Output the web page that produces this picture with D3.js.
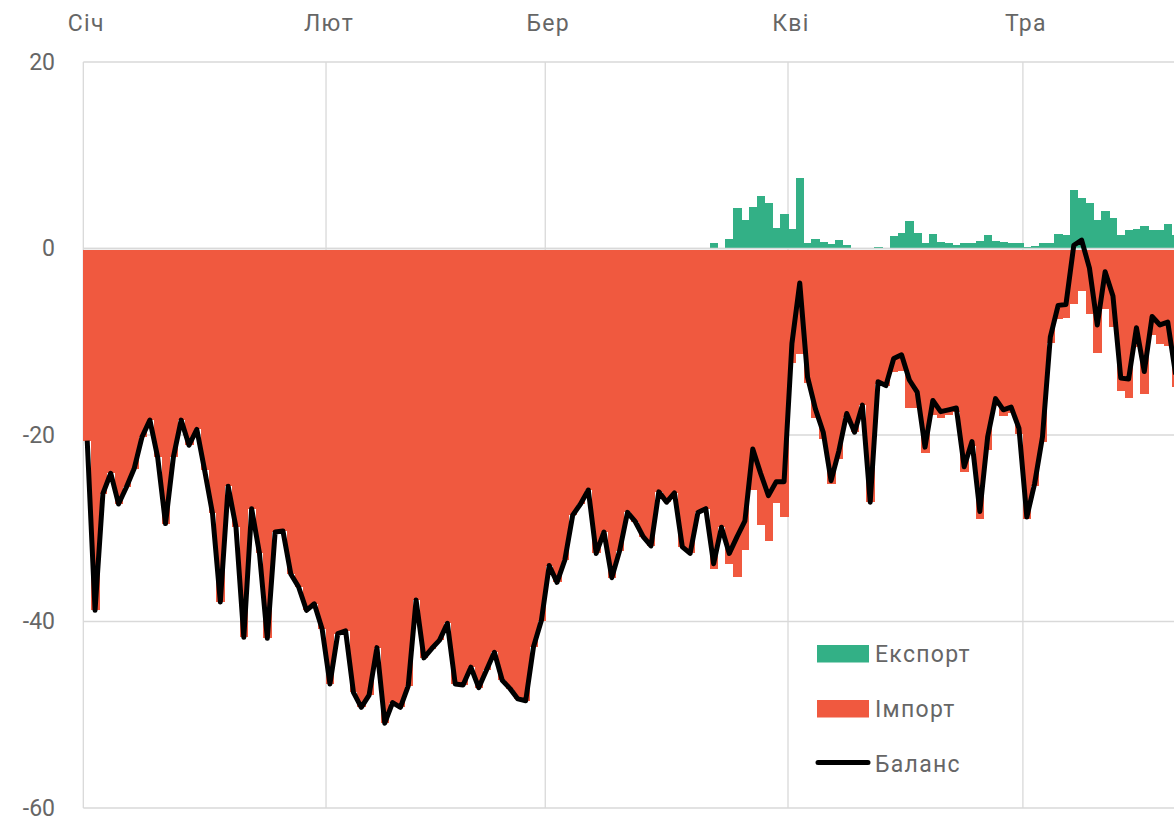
<!DOCTYPE html>
<html lang="uk">
<head>
<meta charset="UTF-8">
<title>Баланс</title>
<script src="https://cdn.jsdelivr.net/npm/d3@7/dist/d3.min.js"></script>
<style>
    body { margin: 0; background: #fff; font-family: Roboto, Arial, sans-serif; }
    svg text { fill: #666; font-family: Roboto, Arial, sans-serif; }
    .wide { letter-spacing: 1.3px; }
</style>
</head>
<body>
<div id="chart"></div>
<script>
// first day of the series, one value per day
const startDate = new Date(2023, 0, 1);
const monthLabels = ["Січ", "Лют", "Бер", "Кві", "Тра"];
const yTicks = [20, 0, -20, -40, -60];

const balance = [
    -20.6, -38.8, -26.3, -24.1, -27.4, -25.6, -23.6, -20.2, -18.4, -22.4,
    -29.5, -22.4, -18.4, -21.1, -19.4, -23.8, -28.4, -37.9, -25.5, -29.9,
    -41.7, -27.9, -32.7, -41.8, -30.4, -30.3, -34.9, -36.3, -38.8, -38.1,
    -40.8, -46.7, -41.3, -41.0, -47.6, -49.2, -47.9, -42.8, -50.9, -48.7,
    -49.2, -46.9, -37.7, -43.9, -42.9, -42.0, -40.2, -46.7, -46.8, -44.9,
    -47.1, -45.2, -43.3, -46.3, -47.2, -48.3, -48.5, -42.7, -39.9, -34.0,
    -35.8, -33.4, -28.6, -27.4, -25.9, -32.7, -30.4, -35.3, -32.4, -28.3,
    -29.3, -30.9, -31.9, -26.1, -27.2, -26.2, -32.0, -32.7, -28.3, -27.9,
    -33.8, -29.9, -32.7, -30.9, -29.2, -21.5, -24.1, -26.5, -25.0, -25.0,
    -10.2, -3.7, -13.8, -17.2, -19.7, -24.9, -21.7, -17.7, -19.7, -16.8,
    -27.2, -14.3, -14.7, -11.8, -11.4, -14.1, -15.4, -21.3, -16.3, -17.5,
    -17.3, -17.1, -23.4, -20.7, -28.2, -20.2, -16.1, -17.3, -17.0, -19.3,
    -28.8, -25.2, -20.2, -9.5, -6.1, -6.0, 0.35, 0.9, -2.1, -8.2,
    -2.5, -5.1, -13.9, -14.0, -8.5, -13.2, -7.3, -8.2, -7.9, -13.5
];

const exportVals = [
    0, 0, 0, 0, 0, 0, 0, 0, 0, 0,
    0, 0, 0, 0, 0, 0, 0, 0, 0, 0,
    0, 0, 0, 0, 0, 0, 0, 0, 0, 0,
    0, 0, 0, 0, 0, 0, 0, 0, 0, 0,
    0, 0, 0, 0, 0, 0, 0, 0, 0, 0,
    0, 0, 0, 0, 0, 0, 0, 0, 0, 0,
    0, 0, 0, 0, 0, 0, 0, 0, 0, 0,
    0, 0, 0, 0, 0, 0, 0, 0, 0, 0,
    0.6, 0, 1.07, 4.3, 3.1, 4.4, 5.6, 4.9, 2.25, 3.75,
    2.1, 7.6, 0.6, 1.0, 0.7, 0.45, 0.9, 0.36, 0, 0,
    0, 0.18, 0, 1.36, 1.7, 2.96, 1.7, 0.6, 1.6, 0.7,
    0.6, 0.36, 0.64, 0.54, 0.82, 1.43, 0.79, 0.68, 0.57, 0.62,
    0.18, 0.25, 0.54, 0.6, 1.54, 1.43, 6.25, 5.46, 4.9, 3.04,
    4.04, 3.3, 1.43, 1.96, 2.14, 2.43, 1.96, 1.96, 2.6, 1.43
];

const importVals = [
    -20.6, -38.8, -26.3, -24.1, -27.4, -25.6, -23.6, -20.2, -18.4, -22.4,
    -29.5, -22.4, -18.4, -21.1, -19.4, -23.8, -28.4, -37.9, -25.5, -29.9,
    -41.7, -27.9, -32.7, -41.8, -30.4, -30.3, -34.9, -36.3, -38.8, -38.1,
    -40.8, -46.7, -41.3, -41.0, -47.6, -49.2, -47.9, -42.8, -50.9, -48.7,
    -49.2, -46.9, -37.7, -43.9, -42.9, -42.0, -40.2, -46.7, -46.8, -44.9,
    -47.1, -45.2, -43.3, -46.3, -47.2, -48.3, -48.5, -42.7, -39.9, -34.0,
    -35.8, -33.4, -28.6, -27.4, -25.9, -32.7, -30.4, -35.3, -32.4, -28.3,
    -29.3, -30.9, -31.9, -26.1, -27.2, -26.2, -32.0, -32.7, -28.3, -27.9,
    -34.4, -29.9, -33.8, -35.2, -32.3, -25.9, -29.7, -31.4, -27.3, -28.8,
    -12.3, -11.3, -14.4, -18.2, -20.4, -25.3, -22.6, -18.1, -19.7, -16.8,
    -27.2, -14.5, -14.7, -13.2, -13.1, -17.1, -17.1, -21.9, -17.9, -18.2,
    -17.9, -17.5, -24.0, -21.2, -29.0, -21.6, -16.9, -18.0, -17.6, -19.9,
    -29.0, -25.5, -20.7, -10.1, -7.6, -7.4, -5.9, -4.6, -7.0, -11.2,
    -6.5, -8.4, -15.3, -16.0, -10.6, -15.6, -9.3, -10.2, -10.5, -14.9
];

const legendItems = [
    { name: "Експорт", type: "bar", color: "#33B086" },
    { name: "Імпорт", type: "bar", color: "#F0593F" },
    { name: "Баланс", type: "line", color: "#000" }
];

const W = 1174, H = 820;
const plotLeft = 83.3, plotTop = 62, plotBottom = 808;
const dayW = 7.83;

const data = balance.map((b, i) => ({
    date: d3.timeDay.offset(startDate, i),
    balance: b,
    exp: exportVals[i],
    imp: importVals[i]
}));
const endDate = d3.timeDay.offset(startDate, data.length + 1);

const x = d3.scaleTime()
    .domain([startDate, endDate])
    .range([plotLeft, plotLeft + (data.length + 1) * dayW]);
const y = d3.scaleLinear().domain([-60, 20]).range([plotBottom, plotTop]);

const svg = d3.select("#chart").append("svg")
    .attr("width", W).attr("height", H);

const monthTicks = d3.timeMonth.range(startDate, d3.timeMonth.offset(startDate, monthLabels.length));

// grid
svg.append("g").selectAll("line").data(yTicks).join("line")
    .attr("x1", plotLeft).attr("x2", W)
    .attr("y1", d => y(d)).attr("y2", d => y(d))
    .attr("stroke", "#d9d9d9").attr("stroke-width", 1.3);
svg.append("g").selectAll("line").data(monthTicks).join("line")
    .attr("x1", d => x(d)).attr("x2", d => x(d))
    .attr("y1", plotTop).attr("y2", plotBottom)
    .attr("stroke", "#d9d9d9").attr("stroke-width", 1.3);

// bars (crisp edges so neighbouring days join without seams)
const bw = d => x(d3.timeDay.offset(d.date, 1)) - x(d.date) + 0.6;
svg.append("g").attr("shape-rendering", "crispEdges")
    .selectAll("rect").data(data).join("rect")
    .attr("x", d => x(d.date)).attr("width", bw)
    .attr("y", y(0) + 1).attr("height", d => Math.max(0, y(d.imp) - y(0) - 1))
    .attr("fill", legendItems[1].color);
svg.append("g").attr("shape-rendering", "crispEdges")
    .selectAll("rect").data(data.filter(d => d.exp > 0)).join("rect")
    .attr("x", d => x(d.date)).attr("width", bw)
    .attr("y", d => y(d.exp)).attr("height", d => Math.max(0, y(0) - 1 - y(d.exp)))
    .attr("fill", legendItems[0].color);

// zero line on top
svg.append("line")
    .attr("x1", plotLeft).attr("x2", W)
    .attr("y1", y(0)).attr("y2", y(0))
    .attr("stroke", "#d9d9d9").attr("stroke-width", 1.5);

// balance line
const line = d3.line()
    .x(d => x(d.date) + dayW / 2)
    .y(d => y(d.balance));
svg.append("path").datum(data)
    .attr("d", line)
    .attr("fill", "none").attr("stroke", "#000")
    .attr("stroke-width", 5).attr("stroke-linejoin", "round");

// axis labels
svg.append("g").selectAll("text").data(yTicks).join("text")
    .attr("x", 55).attr("y", d => y(d)).attr("dy", "0.34em")
    .attr("text-anchor", "end").style("font-size", "23px")
    .text(d => d);
svg.append("g").selectAll("text").data(monthTicks).join("text")
    .attr("class", "wide")
    .attr("x", d => x(d) + 3).attr("y", 31)
    .attr("text-anchor", "middle").style("font-size", "23px")
    .text((d, i) => monthLabels[i]);

// legend
const lg = svg.append("g").attr("transform", "translate(817,645)");
legendItems.forEach((item, i) => {
    const g = lg.append("g").attr("transform", `translate(0,${i * 55})`);
    if (item.type === "bar") {
        g.append("rect").attr("width", 52).attr("height", 17.5).attr("fill", item.color);
    } else {
        g.append("line").attr("x1", 1).attr("x2", 51).attr("y1", 7.5).attr("y2", 7.5)
            .attr("stroke", item.color).attr("stroke-width", 5).attr("stroke-linecap", "round");
    }
    g.append("text").attr("class", "wide")
        .attr("x", 58).attr("y", 17).style("font-size", "23px").text(item.name);
});
</script>
</body>
</html>
